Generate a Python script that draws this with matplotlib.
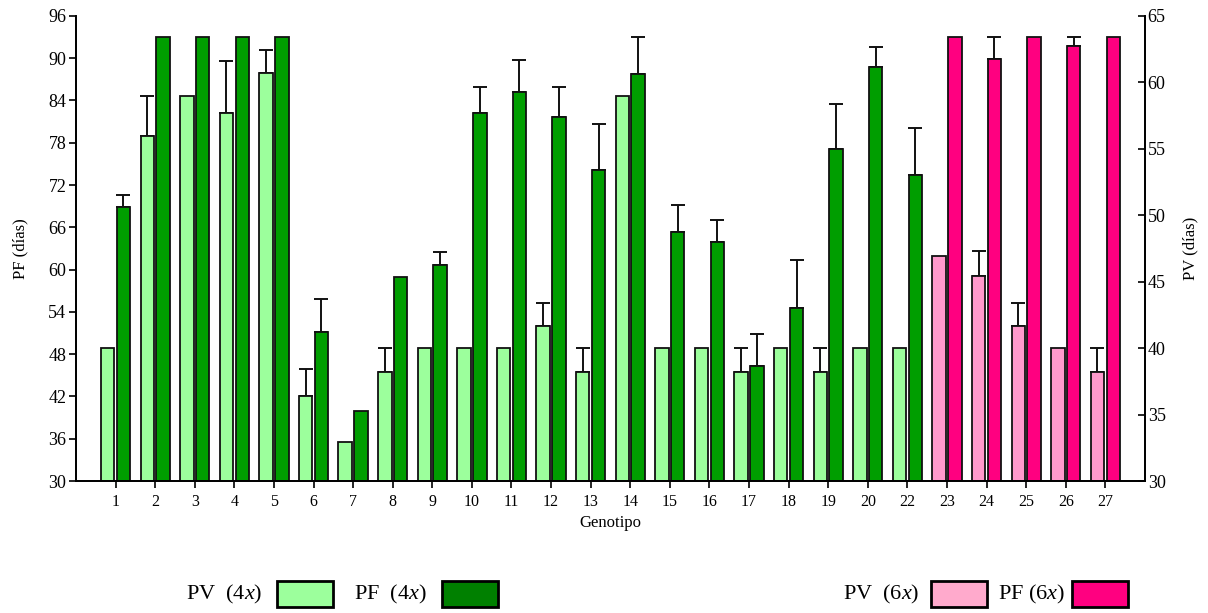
import matplotlib
matplotlib.use("Agg")
import matplotlib.pyplot as plt
from matplotlib.patches import Rectangle
import numpy as np

plt.rcParams['font.family'] = ['Liberation Serif', 'DejaVu Serif']
plt.rcParams['mathtext.fontset'] = 'custom'
plt.rcParams['mathtext.rm'] = 'Liberation Serif'
plt.rcParams['mathtext.it'] = 'Liberation Serif:italic'

genotipos = ['1', '2', '3', '4', '5', '6', '7', '8', '9', '10', '11', '12', '13',
             '14', '15', '16', '17', '18', '19', '20', '22', '23', '24', '25', '26', '27']
ploidia = ['4x'] * 21 + ['6x'] * 5

# PV (dias) - eje derecho
pv = [40, 56, 59, 57.7, 60.7, 36.4, 32.9, 38.2, 40, 40, 40, 41.7, 38.2,
      59, 40, 40, 38.2, 40, 38.2, 40, 40, 46.9, 45.4, 41.7, 40, 38.2]
pv_err = [0, 3.0, 0, 3.9, 1.7, 2.0, 0, 1.8, 0, 0, 0, 1.7, 1.8,
          0, 0, 0, 1.8, 0, 1.8, 0, 0, 0, 1.9, 1.7, 0, 1.8]

# PF (dias) - eje izquierdo
pf = [68.9, 93, 93, 93, 93, 51.2, 40, 58.9, 60.7, 82.2, 85.2, 81.7, 74.1,
      87.7, 65.4, 63.9, 46.3, 54.5, 77.1, 88.7, 73.4, 93, 89.9, 93, 91.7, 93]
pf_err = [1.7, 0, 0, 0, 0, 4.7, 0, 0, 1.8, 3.7, 4.5, 4.2, 6.5,
          5.3, 3.8, 3.1, 4.5, 6.9, 6.4, 2.9, 6.7, 0, 3.1, 0, 1.3, 0]

col_pv = {'4x': '#9cff9c', '6x': '#ff99cc'}
col_pf = {'4x': '#009e00', '6x': '#ff0080'}

x = np.arange(1, len(genotipos) + 1)
w = 0.34
off = 0.2

fig = plt.figure(figsize=(12.08, 6.13), dpi=100)
ax = fig.add_axes([0.0629, 0.2153, 0.8849, 0.7587])
ax2 = ax.twinx()

ax.bar(x + off, [v - 30 for v in pf], bottom=30, width=w,
       color=[col_pf[p] for p in ploidia], edgecolor='#111111', linewidth=1.3, zorder=2)
ax2.bar(x - off, [v - 30 for v in pv], bottom=30, width=w,
        color=[col_pv[p] for p in ploidia], edgecolor='#111111', linewidth=1.3, zorder=2)

# solo la mitad superior de la barra de error
m = np.array(pf_err) > 0
ax.errorbar((x + off)[m], np.array(pf)[m], yerr=[np.zeros(m.sum()), np.array(pf_err)[m]],
            fmt='none', ecolor='#111111', elinewidth=1.4, capsize=5, capthick=1.4, zorder=1)
m = np.array(pv_err) > 0
ax2.errorbar((x - off)[m], np.array(pv)[m], yerr=[np.zeros(m.sum()), np.array(pv_err)[m]],
             fmt='none', ecolor='#111111', elinewidth=1.4, capsize=5, capthick=1.4, zorder=1)

ax.set_xlim(0, len(genotipos) + 1)
ax.set_ylim(30, 96)
ax.set_yticks(np.arange(30, 97, 6))
ax2.set_ylim(30, 65)
ax2.set_yticks(np.arange(30, 66, 5))
ax.set_xticks(x)
ax.set_xticklabels(genotipos, fontsize=11.5)

for a in (ax, ax2):
    a.spines['top'].set_visible(False)
    a.spines['left'].set_linewidth(1.3)
    a.spines['right'].set_linewidth(1.3)
    a.spines['bottom'].set_linewidth(1.3)
ax.tick_params(axis='y', direction='out', length=5, width=1.2, labelsize=13, pad=2)
ax.tick_params(axis='x', direction='out', length=5, width=1.2, pad=4)
ax2.tick_params(axis='y', direction='in', length=5, width=1.2, labelsize=13, pad=2)

ax.set_xlabel('Genotipo', fontsize=12, labelpad=4)
ax.set_ylabel('PF (días)', fontsize=12, labelpad=14)
ax2.set_ylabel('PV (días)', fontsize=12, labelpad=12)

# leyenda en la parte inferior
W, H = 1208.0, 613.0
items = [('PV  (4$x$)', 186, 277, col_pv['4x']),
         ('PF  (4$x$)', 354, 442, '#008000'),
         ('PV  (6$x$)', 843, 931, '#ffaacc'),
         ('PF (6$x$)', 998, 1072, col_pf['6x'])]
for label, tx, bx, c in items:
    fig.text(tx / W, 1 - 594 / H, label, fontsize=16, va='center', ha='left')
    fig.patches.append(Rectangle((bx / W, 1 - 607 / H), 56 / W, 26 / H,
                                 transform=fig.transFigure, facecolor=c,
                                 edgecolor='black', linewidth=2))

fig.savefig('out.png', dpi=100)
